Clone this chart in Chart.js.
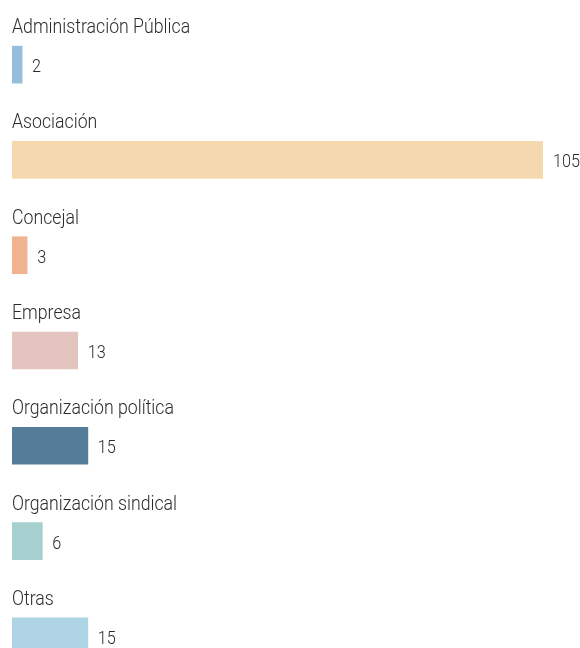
<!DOCTYPE html>
<html>
<head>
<meta charset="utf-8">
<script src="https://cdn.jsdelivr.net/npm/chart.js@4/dist/chart.umd.min.js"></script>
<style>
  html, body { margin: 0; padding: 0; background: #fff; overflow: hidden; }
  #wrap { position: relative; width: 580px; height: 700px; }
</style>
</head>
<body>
<div id="wrap"><canvas id="chart"></canvas></div>
<script>
const categories = [
  'Administración Pública',
  'Asociación',
  'Concejal',
  'Empresa',
  'Organización política',
  'Organización sindical',
  'Otras',
];
const counts = [2, 105, 3, 13, 15, 6, 15];
const barColors = ['#96bdd9', '#f6d8ae', '#f0b590', '#e3c4bf', '#557c98', '#a6cfd0', '#aed4e6'];

const textColor = '#2b2b2b';
const fontFamily = 'Roboto, sans-serif';

// category name above each bar, count to the right; text squeezed a bit to look condensed
const labelPlugin = {
  id: 'barLabels',
  afterDatasetsDraw(chart) {
    const { ctx } = chart;
    const meta = chart.getDatasetMeta(0);
    ctx.save();
    ctx.fillStyle = textColor;
    meta.data.forEach((bar, i) => {
      const top = bar.y - bar.height / 2;
      let s = 0.885;
      ctx.save();
      ctx.scale(s, 1);
      ctx.font = `300 20px ${fontFamily}`;
      ctx.textAlign = 'left';
      ctx.textBaseline = 'alphabetic';
      ctx.fillText(categories[i], chart.chartArea.left / s, top - 13);
      ctx.restore();

      s = 0.9;
      ctx.save();
      ctx.scale(s, 1);
      ctx.font = `300 18px ${fontFamily}`;
      ctx.textBaseline = 'middle';
      ctx.fillText(String(counts[i]), (bar.x + 10) / s, bar.y + 3);
      ctx.restore();
    });
    ctx.restore();
  },
};

new Chart(document.querySelector('#chart'), {
  type: 'bar',
  data: {
    labels: categories,
    datasets: [
      {
        data: counts,
        backgroundColor: barColors,
        barThickness: 37,
        borderWidth: 0,
      },
    ],
  },
  options: {
    indexAxis: 'y',
    responsive: true,
    maintainAspectRatio: false,
    animation: false,
    layout: { padding: { left: 12, right: 37, top: 17, bottom: 16 } },
    plugins: {
      legend: { display: false },
      tooltip: { enabled: false },
    },
    scales: {
      x: { display: false, min: 0, max: 105 },
      y: { display: false },
    },
  },
  plugins: [labelPlugin],
});
</script>
</body>
</html>
